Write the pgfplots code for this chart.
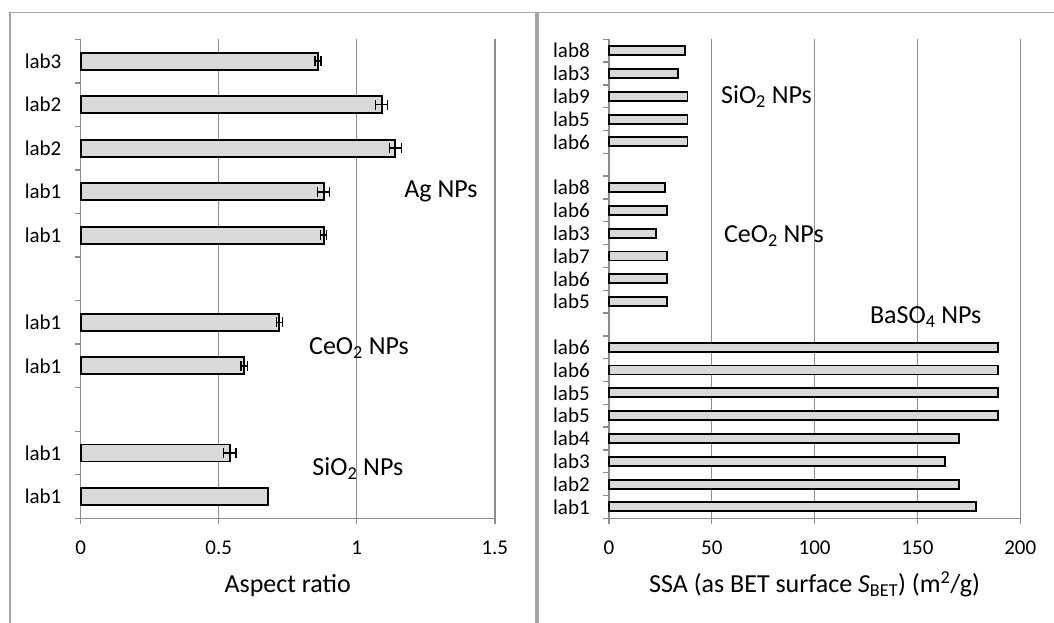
\documentclass[border=0pt]{standalone}
\usepackage{fontspec}
\setmainfont{Carlito}
\usepackage{pgfplots}
\pgfplotsset{compat=1.18}
\definecolor{bargray}{HTML}{D9D9D9}
\definecolor{gridgray}{HTML}{8C8C8C}
\definecolor{framegray}{HTML}{A6A6A6}
\pgfplotsset{
  panel/.style={
    scale only axis,
    xbar, bar width=17pt, bar shift=0pt,
    axis x line=bottom, axis y line=left,
    axis line style={gridgray, line width=1.4pt, -},
    xmajorgrids, major grid style={gridgray, line width=1.4pt},
    tick align=outside, major tick length=6pt,
    tick style={gridgray, line width=1.4pt},
    /pgf/number format/assume math mode=true,
    every tick label/.append style={font=\fontsize{21}{24}\selectfont},
    yticklabel style={inner sep=0pt, anchor=east, xshift=-13pt},
    xticklabel style={inner sep=0pt, anchor=base, yshift=-30pt},
    xlabel style={font=\fontsize{26}{30}\selectfont, anchor=base, at={(axis description cs:0.5,0)}, yshift=-74.4pt},
    clip=false,
  },
  bars/.style={fill=bargray, draw=black, line width=1.9pt, bar shift=0pt},
  errs/.style={error bars/.cd, x dir=both, x explicit,
    error mark={|},
    error bar style={line width=1.6pt, black},
    error mark options={line width=1.6pt, black, mark size=5pt}},
}
\begin{document}
\begin{tikzpicture}[x=1pt,y=1pt]
\path[use as bounding box] (0,0) rectangle (1054,623);
\draw[framegray, line width=1.5pt] (10,610.5) -- (1054,610.5);
\draw[framegray, line width=2pt] (10,0) -- (10,611.25);
\draw[framegray, line width=4pt] (537,0) -- (537,610.5);

\begin{axis}[panel, at={(80.6pt,104.7pt)}, anchor=south west,
  width=414.2pt, height=479pt,
  xmin=0, xmax=1.5, ymin=-0.5, ymax=10.5,
  xtick={0,0.5,1,1.5}, xticklabels={0,0.5,1,1.5},
  ytick={-0.5,0.5,1.5,2.5,3.5,4.5,5.5,6.5,7.5,8.5,9.5,10.5},
  yticklabels={lab1,lab1,,lab1,lab1,,lab1,lab1,lab2,lab2,lab3,{}},
  yticklabel style={yshift=21.77pt},
  bar width=17pt,
  xlabel={Aspect ratio}]
\addplot[bars] coordinates {(0.68,0)};
\addplot[bars, errs] coordinates {
  (0.54,1) +- (0.022,0)
  (0.592,3) +- (0.012,0)
  (0.72,4) +- (0.011,0)
  (0.88,6) +- (0.011,0)
  (0.88,7) +- (0.022,0)
  (1.14,8) +- (0.022,0)
  (1.09,9) +- (0.022,0)
  (0.86,10) +- (0.011,0)
};
\node[font=\fontsize{26}{30}\selectfont, anchor=base] at (axis cs:1.305,6.872) {Ag NPs};
\node[font=\fontsize{26}{30}\selectfont, anchor=base] at (axis cs:1.008,3.266) {CeO\textsubscript{2} NPs};
\node[font=\fontsize{26}{30}\selectfont, anchor=base] at (axis cs:1.004,0.478) {SiO\textsubscript{2} NPs};
\end{axis}

\begin{axis}[panel, at={(608.9pt,104.7pt)}, anchor=south west,
  width=411.4pt, height=479pt,
  xmin=0, xmax=200, ymin=-0.5, ymax=20.5,
  xtick={0,50,100,150,200},
  ytick={-0.5,0.5,1.5,2.5,3.5,4.5,5.5,6.5,7.5,8.5,9.5,10.5,11.5,12.5,13.5,14.5,15.5,16.5,17.5,18.5,19.5,20.5},
  yticklabels={lab1,lab2,lab3,lab4,lab5,lab5,lab6,lab6,,lab5,lab6,lab7,lab3,lab6,lab8,,lab6,lab5,lab9,lab3,lab8,{}},
  yticklabel style={yshift=11.4pt},
  bar width=9pt,
  xlabel={SSA (as BET surface \textit{S}\textsubscript{BET}) (m\textsuperscript{2}/g)}]
\addplot[bars] coordinates {
  (178.4,0) (170.1,1) (163.6,2) (170.1,3) (189.1,4) (189.1,5) (189.1,6) (189.1,7)
  (28.1,9) (28.1,10) (28.1,11) (22.7,12) (28.1,13) (27.1,14)
  (38.2,16) (38.2,17) (38.2,18) (33.6,19) (37.2,20)
};
\node[font=\fontsize{26}{30}\selectfont, anchor=base] at (axis cs:76.6,17.69) {SiO\textsubscript{2} NPs};
\node[font=\fontsize{26}{30}\selectfont, anchor=base] at (axis cs:80.2,11.58) {CeO\textsubscript{2} NPs};
\node[font=\fontsize{26}{30}\selectfont, anchor=base] at (axis cs:154.0,8.05) {BaSO\textsubscript{4} NPs};
\end{axis}
\end{tikzpicture}
\end{document}
